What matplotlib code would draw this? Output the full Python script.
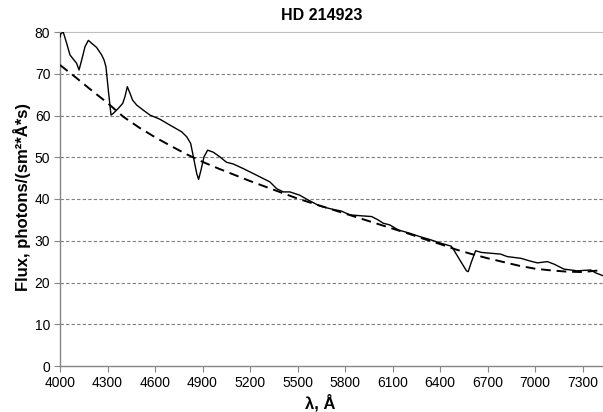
import numpy as np
import matplotlib
matplotlib.use("Agg")
import matplotlib.pyplot as plt

plt.rcParams["font.family"] = ["Liberation Sans", "DejaVu Sans"]

wl = [4000, 4006, 4021, 4042, 4063, 4084, 4105, 4120, 4137, 4158, 4179, 4200,
      4231, 4263, 4278, 4290, 4305, 4322, 4336, 4368, 4396, 4410, 4425, 4442,
      4458, 4484, 4525, 4568, 4631, 4694, 4768, 4800, 4825, 4842, 4863, 4875,
      4890, 4909, 4932, 4968, 5009, 5051, 5093, 5156, 5220, 5283, 5325, 5367,
      5409, 5451, 5514, 5560, 5640, 5725, 5777, 5830, 5893, 5967, 6008, 6040,
      6082, 6135, 6208, 6271, 6334, 6397, 6470, 6486, 6524, 6566, 6577, 6598,
      6624, 6661, 6782, 6824, 6909, 6972, 7014, 7077, 7119, 7182, 7266, 7350,
      7382, 7430]
flux = [78.8, 79.7, 79.9, 77.3, 74.5, 73.5, 72.5, 70.9, 73.3, 76.5, 78.0, 77.3,
        76.3, 74.5, 73.3, 71.7, 66.1, 60.1, 60.5, 61.7, 62.9, 64.5, 66.9, 65.3,
        63.7, 62.5, 61.3, 60.1, 59.1, 57.7, 56.1, 54.9, 53.3, 50.1, 46.1, 44.7,
        46.9, 50.1, 51.7, 51.2, 50.1, 48.8, 48.4, 47.3, 46.1, 44.9, 44.1, 42.5,
        41.7, 41.7, 40.9, 39.9, 38.3, 37.5, 37.1, 36.2, 36.0, 35.8, 35.0, 34.2,
        33.8, 32.6, 31.8, 31.0, 30.3, 29.5, 28.7, 27.8, 25.4, 22.8, 22.6, 25.0,
        27.6, 27.2, 26.8, 26.2, 25.8, 25.1, 24.7, 25.0, 24.4, 23.2, 22.8, 23.0,
        22.3, 21.6]

# fitted continuum
fit_wl = [4000, 4100, 4200, 4300, 4400, 4500, 4600, 4700, 4800, 4900, 5000,
          5100, 5200, 5300, 5400, 5500, 5600, 5700, 5800, 5900, 6000, 6100,
          6200, 6300, 6400, 6500, 6600, 6700, 6800, 6900, 7000, 7100, 7200,
          7300, 7430]
fit_flux = [72.1, 69.1, 66.0, 63.0, 59.7, 57.1, 54.8, 52.7, 50.7, 48.9, 47.3,
            45.8, 44.3, 42.9, 41.5, 40.1, 38.9, 37.7, 36.5, 35.3, 34.1, 32.9,
            31.7, 30.4, 29.2, 27.9, 26.8, 25.8, 24.9, 24.0, 23.3, 22.9, 22.6,
            22.5, 23.0]

xticks = np.arange(4000, 7301, 300)
yticks = np.arange(0, 81, 10)

fig = plt.figure(figsize=(6.03, 4.12), dpi=100)
ax = fig.add_axes([60/603, 46/412, 543/603, 334/412])

for y in yticks[1:-1]:
    ax.axhline(y, color="#7f7f7f", lw=0.8, ls=(0, (3, 2)), zorder=1)

ax.plot(fit_wl, fit_flux, color="black", lw=1.4, ls=(0, (5, 3)), zorder=3)
ax.plot(wl, flux, color="black", lw=1.0, zorder=4)

ax.set_xlim(4000, 7428)
ax.set_ylim(0, 80)
ax.set_xticks(xticks)
ax.set_yticks(yticks)
ax.tick_params(axis="both", direction="out", length=4, width=0.8,
               color="#868686", labelsize=10, pad=3)

ax.spines["right"].set_visible(False)
ax.spines["top"].set_color("#bfbfbf")
for side in ["left", "bottom"]:
    ax.spines[side].set_color("#868686")
    ax.spines[side].set_linewidth(1.0)

fig.text(322/603, 1 - 15/412, "HD 214923", ha="center", va="center",
         fontsize=11.5, fontweight="bold")
ax.set_xlabel("λ, Å", fontsize=12, fontweight="bold")
ax.xaxis.set_label_coords((320 - 60) / 543, -(403 - 366) / 334)
ax.xaxis.label.set_va("center")
ax.set_ylabel("Flux, photons/(sm²*Å*s)", fontsize=12, fontweight="bold")
ax.yaxis.set_label_coords(-(60 - 22) / 543, (366 - 197) / 334)
ax.yaxis.label.set_va("center")

fig.savefig("out.png", dpi=100)
